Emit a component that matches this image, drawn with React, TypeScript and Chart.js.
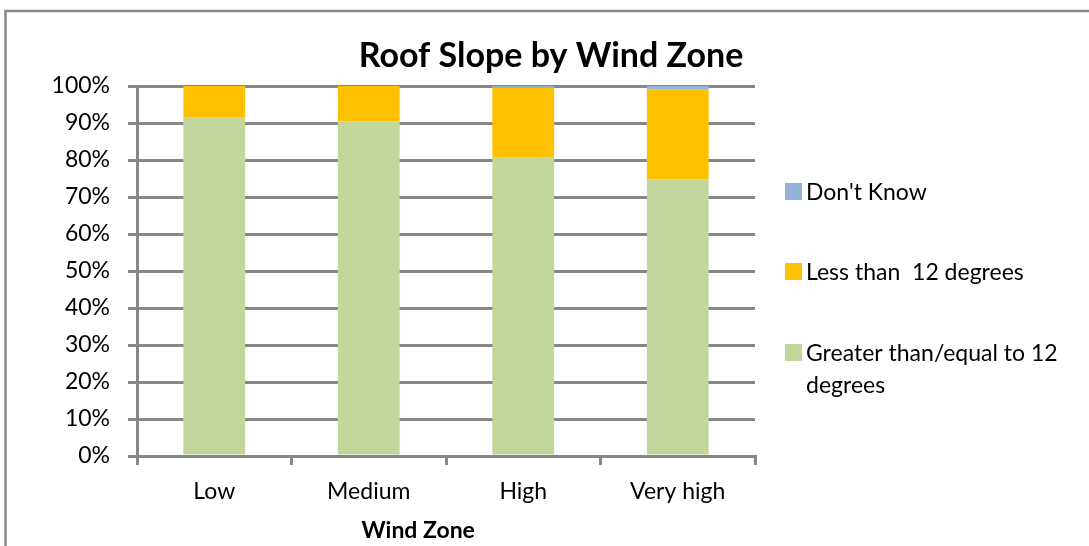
import React, { useEffect, useRef } from "react";
import { Chart, registerables } from "chart.js";

Chart.register(...registerables);

const categories = ["Low", "Medium", "High", "Very high"];
const greaterOrEqual12 = [91.4, 90.4, 80.6, 74.8];
const lessThan12 = [8.6, 9.6, 18.95, 24.2];
const dontKnow = [0, 0, 0.45, 1.0];

const chartTitle = "Roof Slope by Wind Zone";
const xAxisTitle = "Wind Zone";
const legendLines: Record<string, string[]> = {
  "Don't Know": ["Don't Know"],
  "Less than 12 degrees": ["Less than  12 degrees"],
  "Greater than/equal to 12 degrees": ["Greater than/equal to 12", "degrees"],
};

const FONT = "Lato, 'Open Sans', sans-serif";
const GRID = "#878787";

const decorPlugin = {
  id: "decor",
  afterDraw(chart: any) {
    const ctx = chart.ctx as CanvasRenderingContext2D;
    const area = chart.chartArea;
    ctx.save();
    // outer frame (top + left visible)
    ctx.strokeStyle = "#8a8a8a";
    ctx.lineWidth = 2.5;
    ctx.beginPath();
    ctx.moveTo(5.5, 560);
    ctx.lineTo(5.5, 11);
    ctx.lineTo(1100, 11);
    ctx.stroke();

    // title
    ctx.fillStyle = "#000";
    ctx.font = `bold 34px ${FONT}`;
    ctx.textAlign = "center";
    ctx.textBaseline = "alphabetic";
    ctx.fillText(chartTitle, 551, 67);

    // x axis title
    ctx.font = `bold 23px ${FONT}`;
    ctx.fillText(xAxisTitle, area.left + (area.right - area.left) * 0.455, 538);

    // legend
    const ds = chart.data.datasets.slice().reverse();
    const centers = [191.5, 271.5, 352.5];
    ctx.font = `23px ${FONT}`;
    ctx.textAlign = "left";
    ctx.textBaseline = "middle";
    ds.forEach((d: any, i: number) => {
      const cy = centers[i];
      ctx.fillStyle = d.backgroundColor;
      ctx.fillRect(area.right + 30, cy - 8.5, 17, 17);
      ctx.fillStyle = "#000";
      const lines = legendLines[d.label] || [d.label];
      lines.forEach((t, j) => {
        ctx.fillText(t, area.right + 51, cy + 1 + j * 32);
      });
    });
    ctx.restore();
  },
};

export default function App() {
  const ref = useRef<HTMLCanvasElement | null>(null);
  useEffect(() => {
    if (!ref.current) return;
    const chart = new Chart(ref.current, {
      type: "bar",
      data: {
        labels: categories,
        datasets: [
          {
            label: "Greater than/equal to 12 degrees",
            data: greaterOrEqual12,
            backgroundColor: "#C3D69B",
            barPercentage: 0.4,
            categoryPercentage: 1,
          },
          {
            label: "Less than 12 degrees",
            data: lessThan12,
            backgroundColor: "#FFC000",
            barPercentage: 0.4,
            categoryPercentage: 1,
          },
          {
            label: "Don't Know",
            data: dontKnow,
            backgroundColor: "#95B3D7",
            barPercentage: 0.4,
            categoryPercentage: 1,
          },
        ],
      },
      options: {
        responsive: false,
        animation: false,
        devicePixelRatio: 1,
        layout: { padding: { left: 0, right: 334, top: 86, bottom: 0 } },
        plugins: {
          legend: { display: false },
          title: { display: false },
          tooltip: { enabled: false },
        },
        scales: {
          x: {
            stacked: true,
            afterFit(scale: any) {
              scale.height = 90;
            },
            grid: {
              offset: true,
              drawOnChartArea: false,
              drawTicks: true,
              tickLength: 9,
              color: GRID,
              lineWidth: 3,
            },
            border: { display: true, color: GRID, width: 3 },
            ticks: {
              color: "#000",
              font: { family: FONT, size: 23 },
              padding: 13,
              maxRotation: 0,
            },
          },
          y: {
            stacked: true,
            min: 0,
            max: 100,
            afterFit(scale: any) {
              scale.width = 137;
            },
            grid: {
              color: GRID,
              lineWidth: 3,
              drawTicks: true,
              tickLength: 9,
            },
            border: { display: true, color: GRID, width: 3 },
            ticks: {
              stepSize: 10,
              color: "#000",
              font: { family: FONT, size: 23 },
              padding: 18,
              callback: (v: any) => `${v}%`,
            },
          },
        },
      },
      plugins: [decorPlugin],
    });
    return () => chart.destroy();
  }, []);

  return (
    <div style={{ position: "absolute", left: 0, top: 0, width: 1089, height: 546, background: "#fff" }}>
      <canvas ref={ref} width={1089} height={546} style={{ width: 1089, height: 546, display: "block" }} />
    </div>
  );
}
